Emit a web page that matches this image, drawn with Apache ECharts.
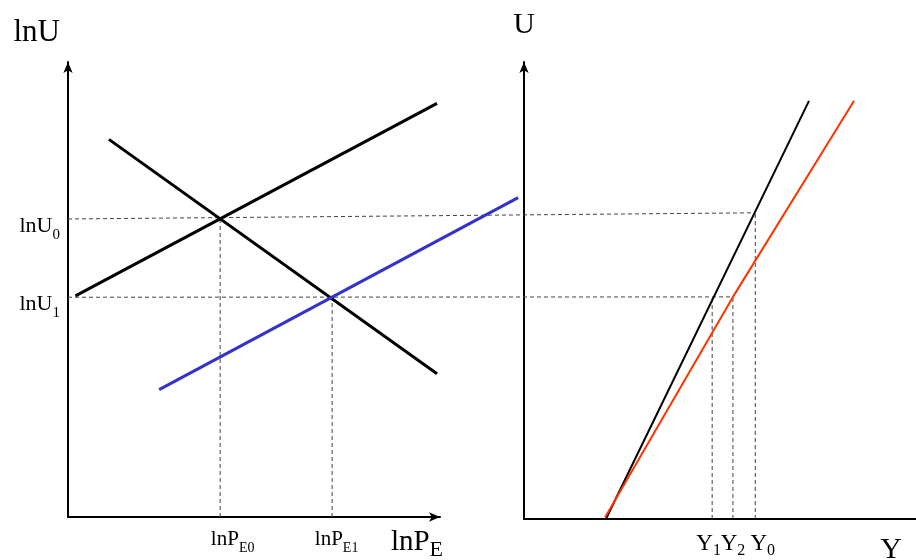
<!DOCTYPE html>
<html>
<head>
<meta charset="utf-8">
<title>lnU and U diagram</title>
<script src="https://cdn.jsdelivr.net/npm/echarts@6/dist/echarts.min.js"></script>
<style>
html, body { margin: 0; padding: 0; background: #fff; }
#chart { width: 916px; height: 560px; }
</style>
</head>
<body>
<div id="chart"></div>
<script>
// left panel: lnU against lnP_E
var peLevels = [4.09, 7.10];          // lnP_E0, lnP_E1
var peSubs = ['E0', 'E1'];
var lnuLevels = [6.55, 4.83];         // lnU0, lnU1
var lnuSubs = ['0', '1'];
var riseLine = [[0.2, 4.86], [9.92, 9.09]];
var fallLine = [[1.1, 8.3], [9.92, 3.15]];
var blueLine = [[2.45, 2.8], [12.1, 7.02]];

// right panel: U against Y
var yLevels = [4.80, 5.33, 5.90];     // Y1, Y2, Y0
var ySubs = ['1', '2', '0'];
var uLevels = [6.70, 4.86];           // U0, U1 on the right scale
var blackCurve = [[2.09, 0], [7.27, 9.15]];
var redCurve = [[2.07, 0.04], [5.33, 4.86], [8.42, 9.15]];

var serif = '"Liberation Serif", "Times New Roman", serif';

// the left scale, stretched over the whole width, carries marks that cross the gap
var leftWidth = 372, fullWidth = 848;
var reach = 10 * fullWidth / leftWidth;

function txt(size, pad) {
    return { fontFamily: serif, fontSize: size, color: '#000', padding: pad || [0, 0, 0, 0] };
}

function axisLine(arrow) {
    return {
        show: true,
        symbol: arrow ? ['none', 'arrow'] : ['none', 'none'],
        symbolSize: [7, 11],
        lineStyle: { color: '#000', width: 2 }
    };
}

function curve(grid, pts, color, width) {
    return {
        type: 'line', xAxisIndex: grid, yAxisIndex: grid, data: pts,
        symbol: 'none', clip: false, silent: true, z: 3,
        lineStyle: { color: color, width: width }
    };
}

function guide(grid, pts) {
    return {
        type: 'line', xAxisIndex: grid, yAxisIndex: grid, data: pts,
        symbol: 'none', clip: false, silent: true, z: 2,
        lineStyle: { color: '#444', width: 1, type: [4, 3] }
    };
}

// Y labels sit very close together, so Y2 gets its own (lineless) axis
function yLabels(values) {
    return {
        customValues: values,
        margin: 10,
        hideOverlap: false,
        showMinLabel: true,
        showMaxLabel: true,
        formatter: function (v) {
            var i = yLevels.indexOf(v);
            return '{m' + i + '|Y}{s' + i + '|' + ySubs[i] + '}';
        },
        rich: {
            m0: txt(23, [0, 0, 0, 0]),
            m1: txt(23, [0, 0, 0, 0]),
            m2: txt(23, [0, 0, 0, 15]),
            s0: txt(16, [14, 7, 0, 0]),
            s1: txt(16, [14, 0, 0, 0]),
            s2: txt(16, [14, 0, 0, 0])
        }
    };
}

var series = [
    curve(0, riseLine, '#000', 3),
    curve(0, fallLine, '#000', 3),
    curve(2, blueLine, '#3333cc', 3),
    curve(1, blackCurve, '#000', 2),
    curve(1, redCurve, '#ff3300', 2),
    guide(0, [[peLevels[0], 0], [peLevels[0], lnuLevels[0]]]),
    guide(0, [[peLevels[1], 0], [peLevels[1], lnuLevels[1]]]),
    guide(1, [[yLevels[0], 0], [yLevels[0], uLevels[1]]]),
    guide(1, [[yLevels[1], 0], [yLevels[1], uLevels[1]]]),
    guide(1, [[yLevels[2], 0], [yLevels[2], uLevels[0]]])
];

var hidden = { show: false, type: 'value', min: 0, gridIndex: 2 };

var option = {
    backgroundColor: '#fff',
    animation: false,
    grid: [
        { left: 68, top: 62, width: leftWidth, height: 455, outerBoundsMode: 'none' },
        { left: 524, top: 62, width: 392, height: 457, outerBoundsMode: 'none' },
        { left: 68, top: 62, width: fullWidth, height: 455, outerBoundsMode: 'none' }
    ],
    xAxis: [
        {
            gridIndex: 0, type: 'value', min: 0, max: 10,
            axisLine: axisLine(true),
            axisTick: { show: false },
            splitLine: { show: false },
            axisLabel: {
                customValues: peLevels,
                margin: 6,
                hideOverlap: false,
                showMinLabel: true,
                showMaxLabel: true,
                formatter: function (v) {
                    var i = peLevels.indexOf(v);
                    return '{m' + i + '|lnP}{s|' + peSubs[i] + '}';
                },
                rich: {
                    m0: txt(21, [0, 0, 0, 25]),
                    m1: txt(21, [0, 0, 0, 9]),
                    s: txt(14, [18, 0, 0, 0])
                }
            },
            name: '{m|lnP}{s|E}',
            nameLocation: 'end',
            nameGap: 3,
            nameTextStyle: {
                align: 'right', verticalAlign: 'top', padding: [7, 0, 0, 0],
                rich: { m: txt(29), s: txt(22, [15, 0, 0, 0]) }
            }
        },
        {
            gridIndex: 1, type: 'value', min: 0, max: 10, position: 'bottom',
            axisLine: axisLine(false),
            axisTick: { show: false },
            splitLine: { show: false },
            axisLabel: yLabels([yLevels[0], yLevels[2]]),
            name: 'Y',
            nameLocation: 'end',
            nameGap: -14,
            nameTextStyle: {
                fontFamily: serif, fontSize: 30, color: '#000',
                align: 'right', verticalAlign: 'top', padding: [16, 0, 0, 0]
            }
        },
        Object.assign({ max: reach }, hidden),
        {
            gridIndex: 1, type: 'value', min: 0, max: 10, position: 'bottom', offset: 0,
            axisLine: { show: false },
            axisTick: { show: false },
            splitLine: { show: false },
            axisLabel: yLabels([yLevels[1]])
        }
    ],
    yAxis: [
        {
            gridIndex: 0, type: 'value', min: 0, max: 10,
            axisLine: axisLine(true),
            axisTick: { show: false },
            splitLine: { show: false },
            axisLabel: {
                customValues: lnuLevels,
                margin: 8,
                hideOverlap: false,
                showMinLabel: true,
                showMaxLabel: true,
                formatter: function (v) {
                    var i = lnuLevels.indexOf(v);
                    return '{m|lnU}{s|' + lnuSubs[i] + '}';
                },
                rich: {
                    m: txt(22, [14, 0, 0, 0]),
                    s: txt(15, [32, 0, 0, 0])
                }
            },
            name: 'lnU',
            nameLocation: 'end',
            nameGap: 14,
            nameTextStyle: {
                fontFamily: serif, fontSize: 31, color: '#000',
                align: 'right', verticalAlign: 'bottom', padding: [0, 8, 0, 0]
            }
        },
        {
            gridIndex: 1, type: 'value', min: 0, max: 10,
            axisLine: axisLine(true),
            axisTick: { show: false },
            splitLine: { show: false },
            axisLabel: { show: false },
            name: 'U',
            nameLocation: 'end',
            nameGap: 22,
            nameTextStyle: {
                fontFamily: serif, fontSize: 30, color: '#000',
                align: 'center', verticalAlign: 'bottom'
            }
        },
        Object.assign({ max: 10 }, hidden)
    ],
    series: series
};

var chart = echarts.init(document.getElementById('chart'));
chart.setOption(option);

// dashed links from the lnU axis across to the right-hand curves
var linkEnds = [[yLevels[2], uLevels[0]], [yLevels[1], uLevels[1]]];
var links = lnuLevels.map(function (lv, i) {
    var px = chart.convertToPixel({ gridIndex: 1 }, linkEnds[i]);
    var far = chart.convertFromPixel({ gridIndex: 2 }, px);
    return guide(2, [[0, lv], far]);
});
chart.setOption({ series: series.concat(links) });
</script>
</body>
</html>
